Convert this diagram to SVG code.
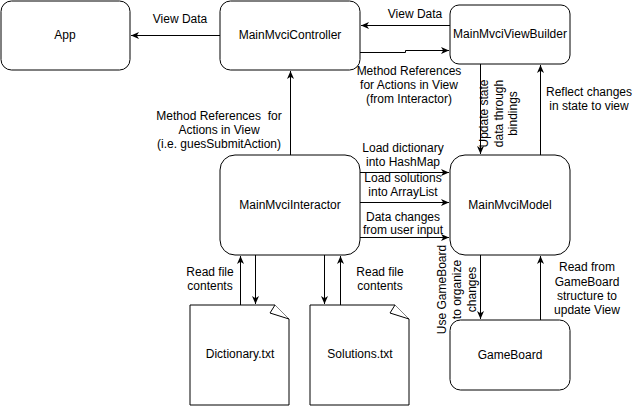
<svg xmlns="http://www.w3.org/2000/svg" width="636" height="406" viewBox="0 0 636 406">
<defs>
<marker id="arr" markerUnits="userSpaceOnUse" markerWidth="9" markerHeight="9" refX="8" refY="4" orient="auto" viewBox="0 0 9 8">
<path d="M0,0.5 L8,4 L0,7.5 L2.2,4 Z" fill="#000"/>
</marker>
</defs>
<style>
.box{fill:#fff;stroke:#000;stroke-width:1}
.t{font-family:"Liberation Sans",Arial,sans-serif;font-size:12px;fill:#000;text-anchor:middle}
.e{fill:none;stroke:#000;stroke-width:1;marker-end:url(#arr)}
</style>
<rect width="636" height="406" fill="#fff"/>
<g id="connectors">
<path class="e" d="M220,35.5 H131"/>
<path class="e" d="M450,25.5 H361"/>
<path class="e" d="M360,52.5 H405.5 V50.5 H449"/>
<path class="e" d="M290.5,155 V71"/>
<path class="e" d="M480.5,64 V154"/>
<path class="e" d="M540.5,155 V65"/>
<path class="e" d="M360,172.5 H449"/>
<path class="e" d="M360,202.5 H449"/>
<path class="e" d="M360,237.5 H449"/>
<path class="e" d="M480.5,255 V319"/>
<path class="e" d="M540.5,320 V256"/>
<path class="e" d="M240.5,305 V256"/>
<path class="e" d="M255.5,255 V304"/>
<path class="e" d="M324.5,255 V304"/>
<path class="e" d="M340.5,305 V256"/>
</g>
<g id="edge-labels">
<text class="t" x="180" y="23">View Data</text>
<text class="t" x="415" y="18">View Data</text>
<text class="t" x="409"><tspan x="409" y="75">Method References</tspan><tspan x="409" y="89">for Actions in View</tspan><tspan x="409" y="103">(from Interactor)</tspan></text>
<text class="t" x="219"><tspan x="219" y="120">Method References&#160; for</tspan><tspan x="219" y="134">Actions in View</tspan><tspan x="219" y="148">(i.e. guesSubmitAction)</tspan></text>
<text class="t" x="403"><tspan x="403" y="151.5">Load dictionary</tspan><tspan x="403" y="166">into HashMap</tspan></text>
<text class="t" x="403"><tspan x="403" y="182">Load solutions</tspan><tspan x="403" y="196">into ArrayList</tspan></text>
<text class="t" x="403"><tspan x="403" y="220.5">Data changes</tspan><tspan x="403" y="234">from user input</tspan></text>
<text class="t" x="589"><tspan x="589" y="96">Reflect changes</tspan><tspan x="589" y="110">in state to view</tspan></text>
<text class="t" x="587"><tspan x="587" y="271">Read from</tspan><tspan x="587" y="285.5">GameBoard</tspan><tspan x="587" y="300">structure to</tspan><tspan x="587" y="314">update View</tspan></text>
<text class="t" x="210"><tspan x="210" y="276">Read file</tspan><tspan x="210" y="290">contents</tspan></text>
<text class="t" x="380"><tspan x="380" y="276">Read file</tspan><tspan x="380" y="290">contents</tspan></text>
<g transform="translate(498,113.5) rotate(-90)"><text class="t"><tspan x="0" y="-10">Update state</tspan><tspan x="0" y="4.5">data through</tspan><tspan x="0" y="19">bindings</tspan></text></g>
<g transform="translate(457,289.5) rotate(-90)"><text class="t"><tspan x="0" y="-11">Use GameBoard</tspan><tspan x="0" y="4">to organize</tspan><tspan x="0" y="18.5">changes</tspan></text></g>
</g>
<g id="app"><rect class="box" x="1" y="1" width="129" height="69" rx="10.5"/><text class="t" x="65" y="39">App</text></g>
<g id="controller"><rect class="box" x="220" y="1" width="140" height="69" rx="10.5"/><text class="t" x="290" y="39">MainMvciController</text></g>
<g id="viewbuilder"><rect class="box" x="450" y="5" width="120" height="59" rx="9"/><text class="t" x="510" y="38">MainMvciViewBuilder</text></g>
<g id="interactor"><rect class="box" x="220" y="155" width="140" height="100" rx="15"/><text class="t" x="290" y="209">MainMvciInteractor</text></g>
<g id="model"><rect class="box" x="450" y="155" width="120" height="100" rx="15"/><text class="t" x="510" y="209">MainMvciModel</text></g>
<g id="gameboard"><rect class="box" x="450" y="320" width="120" height="70" rx="10.5"/><text class="t" x="510" y="359">GameBoard</text></g>
<g id="dictionary"><path class="box" d="M190,305 H275 L289,319 V405 H190 Z"/><path class="box" d="M275,305 L270,313 L289,319"/><text class="t" x="240" y="358">Dictionary.txt</text></g>
<g id="solutions"><path class="box" d="M310,305 H395 L409,319 V405 H310 Z"/><path class="box" d="M395,305 L390,313 L409,319"/><text class="t" x="360" y="358">Solutions.txt</text></g>
</svg>
